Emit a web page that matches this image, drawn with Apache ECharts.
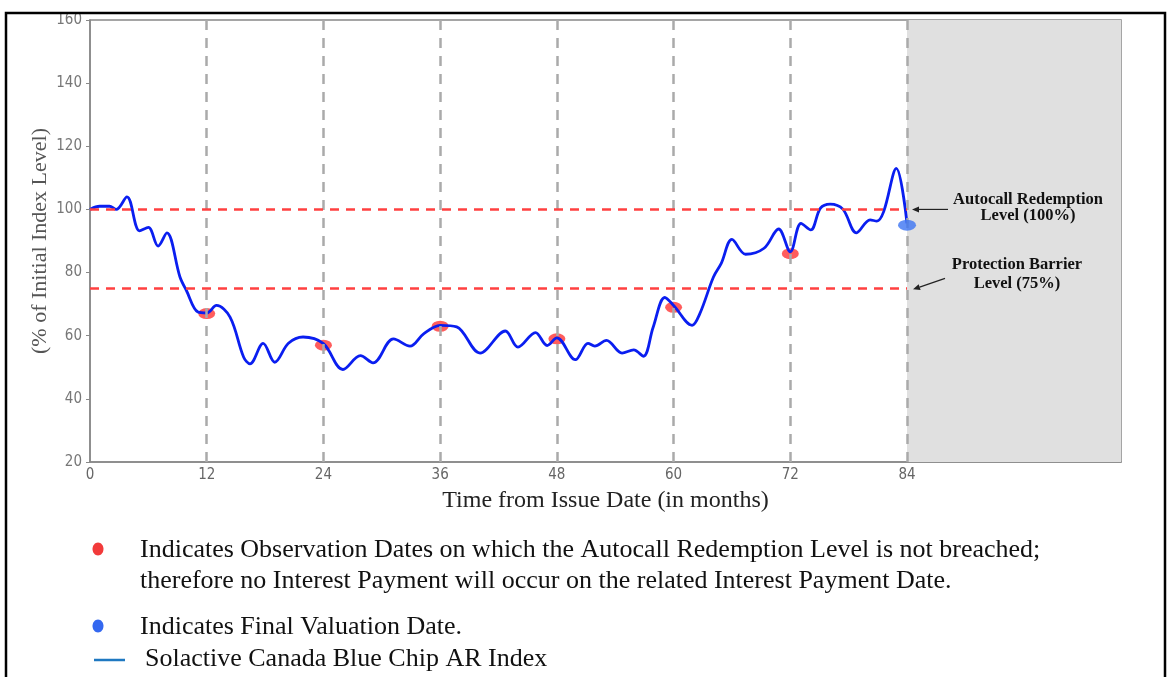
<!DOCTYPE html>
<html>
<head>
<meta charset="utf-8">
<script src="https://cdn.jsdelivr.net/npm/echarts@6/dist/echarts.min.js"></script>
<style>
html,body{margin:0;padding:0;background:#fff;}
#chart{width:1167px;height:677px;}
</style>
</head>
<body>
<div id="chart"></div>
<script>
// ---- data ----
const months = [0, 1, 2, 2.7, 3.8, 5.1, 6.0, 7.0, 7.9, 9.25, 9.9, 11.1, 12, 13, 14.4, 15.8, 16.45, 17.8, 19.0, 20.4, 21.9, 24, 26, 27.8, 29.1, 31.2, 32.9, 34.3, 36, 37.7, 40.1, 42.7, 44.0, 45.8, 47.0, 48, 49.9, 51.2, 51.9, 53.1, 54.7, 55.9, 56.9, 57.9, 59.1, 60, 61.9, 62.7, 64.1, 64.9, 66.0, 67.4, 69.3, 70.8, 72, 73.1, 74.1, 75.1, 76.1, 77.4, 78.8, 80.2, 80.9, 81.6, 82.9, 84];
const indexLevel = [100, 101, 101, 100, 104, 93.2, 94.3, 88.4, 92.6, 78.6, 74.4, 67.5, 67.2, 69.6, 65.9, 53.2, 51.1, 57.6, 51.6, 57.6, 59.6, 57.5, 49.3, 53.7, 51.4, 59, 56.7, 60.6, 63.3, 62.8, 54.5, 61.5, 56.4, 61, 56.9, 59.3, 52.4, 57.6, 56.7, 58.5, 54.5, 55.5, 53.5, 62.7, 72.1, 69.6, 63.3, 67, 78.6, 82.9, 90.5, 85.8, 87.7, 93.8, 86.6, 95.6, 93.5, 100.4, 101.7, 100.1, 92.6, 96.7, 96.3, 99.3, 113, 95.6];
const obsMonths = [12, 24, 36, 48, 60, 72];
const obsValues = [67, 57, 63, 59, 69, 86];
const finalMonth = [84];
const finalValue = [95];
const autocallLevel = 100;
const barrierLevel = 75;
const xTicks = [0, 12, 24, 36, 48, 60, 72, 84];
const xMax = 106;
const yTicks = [20, 40, 60, 80, 100, 120, 140, 160];
const seriesName = 'Solactive Canada Blue Chip AR Index';
const legendTexts = [
  'Indicates Observation Dates on which the Autocall Redemption Level is not breached;',
  'therefore no Interest Payment will occur on the related Interest Payment Date.',
  'Indicates Final Valuation Date.',
  'Solactive Canada Blue Chip AR Index'
];

const chart = echarts.init(document.getElementById('chart'), null, {renderer: 'canvas'});
const tickFont = '"DejaVu Sans Condensed", "Liberation Sans Narrow", "DejaVu Sans", sans-serif';
const serif = '"Liberation Serif", "DejaVu Serif", serif';

const option = {
  animation: false,
  backgroundColor: '#fff',
  grid: {left: 90, top: 20, right: 46, bottom: 215, show: true, borderColor: '#888', borderWidth: 1.5, backgroundColor: 'transparent'},
  xAxis: {
    type: 'value', min: 0, max: xMax, interval: 12,
    name: 'Time from Issue Date (in months)', nameLocation: 'middle', nameGap: 27,
    nameMoveOverlap: false,
    nameTextStyle: {fontFamily: serif, fontSize: 24, color: '#222'},
    axisLine: {show: true, lineStyle: {color: '#888', width: 1.5}},
    axisTick: {show: false},
    axisLabel: {
      fontFamily: tickFont, fontSize: 15, color: '#666', margin: 6,
      formatter: v => (xTicks.indexOf(v) >= 0 ? String(v) : '')
    },
    splitLine: {show: false}
  },
  yAxis: {
    type: 'value', min: 20, max: 160, interval: 20,
    name: '(% of Initial Index Level)', nameLocation: 'middle', nameGap: 39,
    nameMoveOverlap: false,
    nameTextStyle: {fontFamily: serif, fontSize: 22, color: '#555'},
    axisLine: {show: true, lineStyle: {color: '#888', width: 1.5}},
    axisTick: {show: true, length: 4, lineStyle: {color: '#888'}},
    axisLabel: {fontFamily: tickFont, fontSize: 15, color: '#777', margin: 8},
    splitLine: {show: false}
  },
  series: [
    {
      name: 'shade', type: 'line', data: [], silent: true,
      markArea: {silent: true, itemStyle: {color: '#e0e0e0'}, data: [[{xAxis: finalMonth[0]}, {xAxis: xMax}]]},
      z: 0
    },
    {
      name: 'guides', type: 'line', data: [], silent: true, z: 1,
      markLine: {
        silent: true, symbol: 'none', label: {show: false},
        lineStyle: {color: '#aaa', width: 2.5, type: [10, 8]},
        data: xTicks.filter(v => v > 0).map(v => ({xAxis: v}))
      }
    },
    {
      name: 'levels', type: 'line', data: [], silent: true, z: 2,
      markLine: {
        silent: true, symbol: 'none', label: {show: false},
        lineStyle: {color: '#ff4040', width: 2.5, type: [9, 7]},
        data: [
          [{coord: [0, autocallLevel]}, {coord: [finalMonth[0], autocallLevel]}],
          [{coord: [0, barrierLevel]}, {coord: [finalMonth[0], barrierLevel]}]
        ]
      }
    },
    {
      name: 'obs', type: 'scatter', z: 3,
      symbol: 'circle', symbolSize: [17, 11],
      itemStyle: {color: '#ff3535'},
      data: obsMonths.map((m, i) => [m, obsValues[i]])
    },
    {
      name: seriesName, type: 'line', z: 4,
      smooth: 0.35, showSymbol: false,
      lineStyle: {color: '#0a1ef0', width: 2.8},
      data: months.map((m, i) => [m, indexLevel[i]])
    },
    {
      name: 'final', type: 'scatter', z: 5,
      symbol: 'circle', symbolSize: [18, 11],
      itemStyle: {color: '#3c74f2'},
      data: finalMonth.map((m, i) => [m, finalValue[i]])
    }
  ]
};
chart.setOption(option);

const pA = chart.convertToPixel({gridIndex: 0}, [finalMonth[0], autocallLevel]);
const pB = chart.convertToPixel({gridIndex: 0}, [finalMonth[0], barrierLevel]);

function arrow(x1, y1, x2, y2) {
  const ang = Math.atan2(y2 - y1, x2 - x1);
  const L = 7, W = 3;
  const bx = x2 - L * Math.cos(ang), by = y2 - L * Math.sin(ang);
  const nx = -Math.sin(ang) * W, ny = Math.cos(ang) * W;
  return [
    {type: 'line', shape: {x1: x1, y1: y1, x2: bx, y2: by}, style: {stroke: '#222', lineWidth: 1.2}, z: 100},
    {type: 'polygon', shape: {points: [[x2, y2], [bx + nx, by + ny], [bx - nx, by - ny]]}, style: {fill: '#222'}, z: 100}
  ];
}

const annFont = 'bold 16.5px "Liberation Serif", "DejaVu Serif", serif';
const legFont = '26px "Liberation Serif", "DejaVu Serif", serif';
const graphics = [
  {type: 'rect', shape: {x: 6, y: 13, width: 1159, height: 700}, style: {fill: 'none', stroke: '#000', lineWidth: 2.5}, z: 200, silent: true},
  ...arrow(pA[0] + 41, pA[1], pA[0] + 5, pA[1]),
  ...arrow(pB[0] + 38, pB[1] - 10, pB[0] + 6, pB[1] + 1),
  {type: 'text', x: 1028, y: 200, style: {text: 'Autocall Redemption', font: annFont, fill: '#111', align: 'center', verticalAlign: 'middle'}, z: 100},
  {type: 'text', x: 1028, y: 216, style: {text: 'Level (100%)', font: annFont, fill: '#111', align: 'center', verticalAlign: 'middle'}, z: 100},
  {type: 'text', x: 1017, y: 265, style: {text: 'Protection Barrier', font: annFont, fill: '#111', align: 'center', verticalAlign: 'middle'}, z: 100},
  {type: 'text', x: 1017, y: 284, style: {text: 'Level (75%)', font: annFont, fill: '#111', align: 'center', verticalAlign: 'middle'}, z: 100},
  {type: 'ellipse', shape: {cx: 98, cy: 549, rx: 5.5, ry: 6.5}, style: {fill: '#f23a3a'}, z: 100},
  {type: 'text', x: 140, y: 550, style: {text: legendTexts[0], font: legFont, fill: '#111', verticalAlign: 'middle'}, z: 100},
  {type: 'text', x: 140, y: 581, style: {text: legendTexts[1], font: legFont, fill: '#111', verticalAlign: 'middle'}, z: 100},
  {type: 'ellipse', shape: {cx: 98, cy: 626, rx: 5.5, ry: 6.5}, style: {fill: '#3468f0'}, z: 100},
  {type: 'text', x: 140, y: 627, style: {text: legendTexts[2], font: legFont, fill: '#111', verticalAlign: 'middle'}, z: 100},
  {type: 'line', shape: {x1: 94, y1: 660, x2: 125, y2: 660}, style: {stroke: '#1f78c1', lineWidth: 2.5}, z: 100},
  {type: 'text', x: 145, y: 659, style: {text: legendTexts[3], font: legFont, fill: '#111', verticalAlign: 'middle'}, z: 100}
];
chart.setOption({graphic: graphics});
</script>
</body>
</html>
